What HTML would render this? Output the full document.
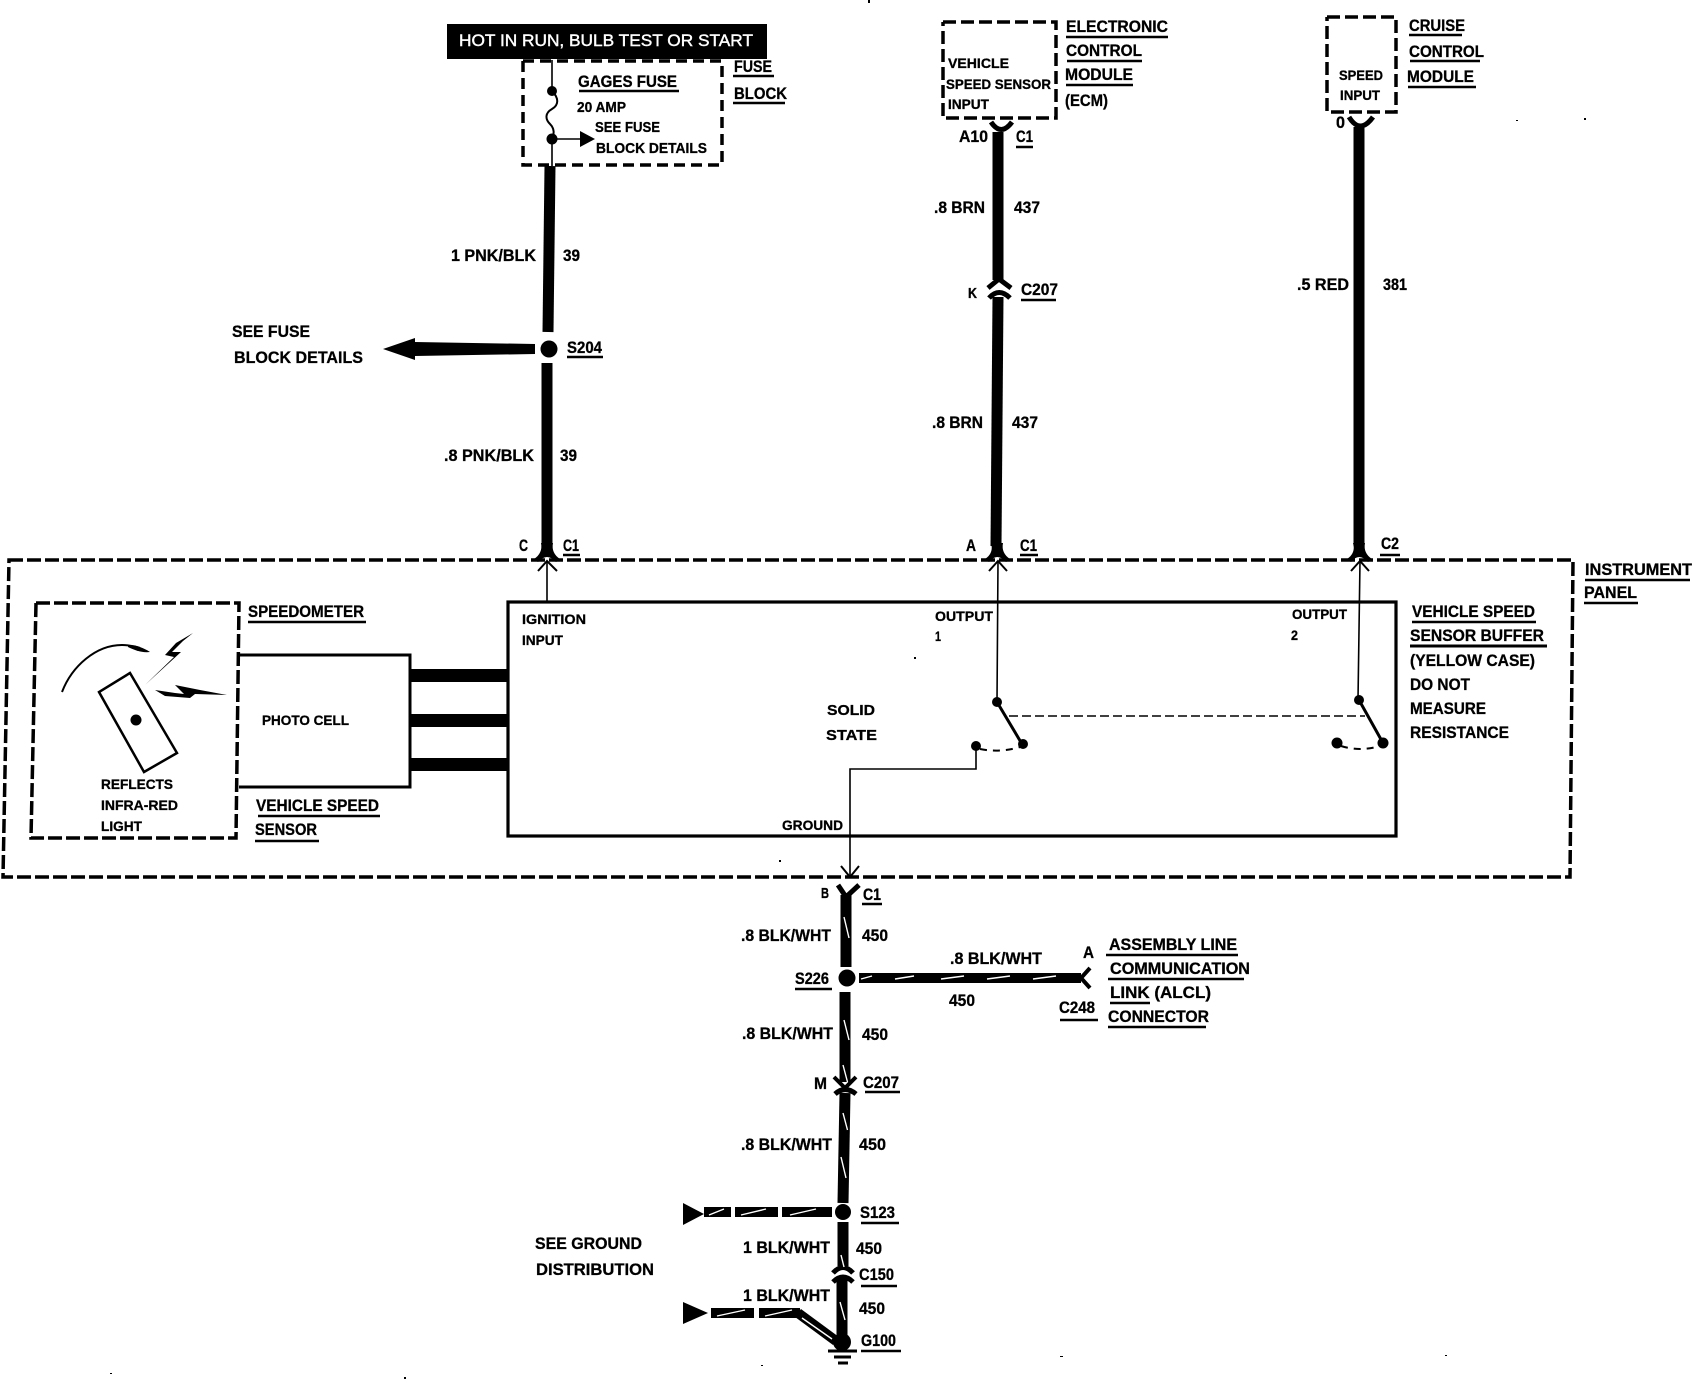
<!DOCTYPE html>
<html><head><meta charset="utf-8"><style>
html,body{margin:0;padding:0;background:#fff}
svg{display:block}
text{font-family:"Liberation Sans",sans-serif;font-weight:bold;fill:#000;font-size:16.5px;stroke:#000;stroke-width:.3}
.s{font-size:13.5px}
.m{font-size:15px}
.d{fill:none;stroke:#000;stroke-width:3.5;stroke-dasharray:13 5}
.w{fill:none;stroke:#000;stroke-width:11}
.u{fill:none;stroke:#000;stroke-width:2.5}
.t{fill:none;stroke:#000;stroke-width:1.6}
.c{fill:none;stroke:#000;stroke-width:3.5}
.h{fill:none;stroke:#fff;stroke-width:1.4}
</style></head><body>
<svg width="1692" height="1392" viewBox="0 0 1692 1392" xmlns="http://www.w3.org/2000/svg">
<rect width="1692" height="1392" fill="#fff"/>

<!-- Fuse block -->
<rect x="447" y="24" width="320" height="35" fill="#000"/>
<text x="459" y="46" textLength="294" lengthAdjust="spacingAndGlyphs" style="fill:#fff;font-weight:normal;stroke:#fff;stroke-width:.4">HOT IN RUN, BULB TEST OR START</text>
<path class="d" style="stroke-dasharray:11 6" d="M523 61V165H722V61H523"/>
<path class="t" d="M552 60V91M552 139V166M552 139H582"/>
<path class="t" style="stroke-width:2" d="M552 91C559 98 559 105 552 109C545 113 545 119 550 124C555 129 554 134 552 139"/>
<circle cx="552" cy="91" r="5"/><circle cx="552" cy="139" r="5.5"/>
<path d="M580 131L595 139L580 147Z"/>
<text x="578" y="87" textLength="99" lengthAdjust="spacingAndGlyphs">GAGES FUSE</text>
<path class="u" d="M579 91H679"/>
<text class="m" x="577" y="112" textLength="49" lengthAdjust="spacingAndGlyphs">20 AMP</text>
<text class="m" x="595" y="132" textLength="65" lengthAdjust="spacingAndGlyphs">SEE FUSE</text>
<text class="m" x="596" y="153" textLength="111" lengthAdjust="spacingAndGlyphs">BLOCK DETAILS</text>
<text x="734" y="72" textLength="38" lengthAdjust="spacingAndGlyphs">FUSE</text><path class="u" d="M733 76H774"/>
<text x="734" y="99" textLength="53" lengthAdjust="spacingAndGlyphs">BLOCK</text><path class="u" d="M733 103H785"/>

<!-- Wire 39 -->
<path class="w" d="M550 166L548 332"/>
<path class="w" d="M547 363L547 548"/>
<circle cx="549" cy="349" r="8.5"/>
<path d="M383 349L415 338V342L535 344V354L415 356V360Z"/>
<text x="451" y="261" textLength="85" lengthAdjust="spacingAndGlyphs">1 PNK/BLK</text>
<text x="563" y="261" textLength="17" lengthAdjust="spacingAndGlyphs">39</text>
<text x="567" y="353" textLength="35" lengthAdjust="spacingAndGlyphs">S204</text><path class="u" d="M567 357H603"/>
<text x="232" y="337" textLength="78" lengthAdjust="spacingAndGlyphs">SEE FUSE</text>
<text x="234" y="363" textLength="129" lengthAdjust="spacingAndGlyphs">BLOCK DETAILS</text>
<text x="444" y="461" textLength="90" lengthAdjust="spacingAndGlyphs">.8 PNK/BLK</text>
<text x="560" y="461" textLength="17" lengthAdjust="spacingAndGlyphs">39</text>
<text x="519" y="551" textLength="9" lengthAdjust="spacingAndGlyphs">C</text>
<text x="563" y="551" textLength="16" lengthAdjust="spacingAndGlyphs">C1</text><path class="u" d="M563 555H580"/>

<!-- ECM -->
<path class="d" d="M943 22H1056V118H943V22"/>
<text x="1066" y="32" textLength="102" lengthAdjust="spacingAndGlyphs">ELECTRONIC</text><path class="u" d="M1066 37H1168"/>
<text x="1066" y="56" textLength="76" lengthAdjust="spacingAndGlyphs">CONTROL</text><path class="u" d="M1067 61H1142"/>
<text x="1065" y="80" textLength="68" lengthAdjust="spacingAndGlyphs">MODULE</text><path class="u" d="M1066 85H1133"/>
<text x="1065" y="106" textLength="43" lengthAdjust="spacingAndGlyphs">(ECM)</text>
<text class="s" x="948" y="68" textLength="61" lengthAdjust="spacingAndGlyphs">VEHICLE</text>
<text class="s" x="946" y="89" textLength="105" lengthAdjust="spacingAndGlyphs">SPEED SENSOR</text>
<text class="s" x="948" y="109" textLength="41" lengthAdjust="spacingAndGlyphs">INPUT</text>
<path class="c" style="stroke-width:5" d="M991 122Q1001 137 1012 122"/>
<text x="959" y="142" textLength="29" lengthAdjust="spacingAndGlyphs">A10</text>
<text x="1016" y="142" textLength="17" lengthAdjust="spacingAndGlyphs">C1</text><path class="u" d="M1016 147H1033"/>
<path class="w" d="M998 132V280"/>
<path class="c" style="stroke-width:5" d="M988 288L999 279L1011 288"/>
<path class="c" style="stroke-width:5" d="M989 298Q999 287 1010 298"/>
<path class="w" d="M998 297L996 546"/>
<text x="934" y="213" textLength="51" lengthAdjust="spacingAndGlyphs">.8 BRN</text>
<text x="1014" y="213" textLength="26" lengthAdjust="spacingAndGlyphs">437</text>
<text x="968" y="298" class="m" textLength="9" lengthAdjust="spacingAndGlyphs">K</text>
<text x="1021" y="295" textLength="37" lengthAdjust="spacingAndGlyphs">C207</text><path class="u" d="M1021 300H1056"/>
<text x="932" y="428" textLength="51" lengthAdjust="spacingAndGlyphs">.8 BRN</text>
<text x="1012" y="428" textLength="26" lengthAdjust="spacingAndGlyphs">437</text>
<text x="966" y="551" textLength="10" lengthAdjust="spacingAndGlyphs">A</text>
<text x="1020" y="551" textLength="17" lengthAdjust="spacingAndGlyphs">C1</text><path class="u" d="M1020 555H1038"/>

<!-- Cruise -->
<path class="d" d="M1327 17H1396V112H1327V17"/>
<text x="1409" y="31" textLength="56" lengthAdjust="spacingAndGlyphs">CRUISE</text><path class="u" d="M1409 35H1462"/>
<text x="1409" y="57" textLength="75" lengthAdjust="spacingAndGlyphs">CONTROL</text><path class="u" d="M1410 61H1480"/>
<text x="1407" y="82" textLength="67" lengthAdjust="spacingAndGlyphs">MODULE</text><path class="u" d="M1408 87H1476"/>
<text class="s" x="1339" y="80" textLength="44" lengthAdjust="spacingAndGlyphs">SPEED</text>
<text class="s" x="1340" y="100" textLength="40" lengthAdjust="spacingAndGlyphs">INPUT</text>
<text x="1336" y="128" textLength="9" lengthAdjust="spacingAndGlyphs">0</text>
<path class="c" style="stroke-width:5" d="M1349 117Q1360 135 1373 117"/>
<path class="w" d="M1359 127V546"/>
<text x="1297" y="290" textLength="52" lengthAdjust="spacingAndGlyphs">.5 RED</text>
<text x="1383" y="290" textLength="24" lengthAdjust="spacingAndGlyphs">381</text>
<text x="1381" y="549" textLength="18" lengthAdjust="spacingAndGlyphs">C2</text><path class="u" d="M1380 555H1400"/>

<!-- Instrument panel -->
<path class="d" d="M9 560H1573L1570 877H3Z" style="stroke-dasharray:14 4"/>
<text x="1585" y="575" textLength="107" lengthAdjust="spacingAndGlyphs">INSTRUMENT</text><path class="u" d="M1585 580H1690"/>
<text x="1584" y="598" textLength="53" lengthAdjust="spacingAndGlyphs">PANEL</text><path class="u" d="M1584 603H1638"/>

<!-- connector forks at panel -->
<g>
<path d="M534 559Q543 553 541 543H553Q551 553 560 559L556 562Q547 552 538 562Z"/>
<path d="M985 559Q994 553 991 543H1003Q1001 553 1010 559L1006 562Q997 552 989 562Z"/>
<path d="M1347 559Q1356 553 1353 543H1365Q1363 553 1372 559L1368 562Q1359 552 1351 562Z"/>
<path class="t" style="stroke-width:2" d="M538 571L547 561L557 571"/>
<path class="t" style="stroke-width:2" d="M989 571L998 561L1007 571"/>
<path class="t" style="stroke-width:2" d="M1351 571L1360 561L1369 571"/>
</g>
<path class="t" d="M547 561V602M998 561L997 702M1360 561L1358 700"/>

<!-- Speedometer -->
<path class="d" style="stroke-dasharray:14 4" d="M36 603H239L236 838H31Z"/>
<text x="248" y="617" textLength="116" lengthAdjust="spacingAndGlyphs">SPEEDOMETER</text><path class="u" d="M248 622H366"/>
<path d="M130 673L99 692L144 772L177 753Z" fill="#fff" stroke="#000" stroke-width="2.5"/>
<circle cx="136" cy="720" r="5.5"/>
<path class="t" style="stroke-width:2" d="M62 692C72 666 96 645 122 645C128 645 134 646 140 648"/>
<path d="M128 645C136 645 144 648 150 652C142 653 134 650 128 647Z"/>
<path d="M193 633L176 643L165 655L174 657L145 685L181 652L172 652L183 641Z"/>
<path d="M155 690L175 693L184 694L175 685L200 690L227 695L195 694L190 698L165 696Z"/>
<text class="s" x="101" y="789" textLength="72" lengthAdjust="spacingAndGlyphs">REFLECTS</text>
<text class="s" x="101" y="810" textLength="77" lengthAdjust="spacingAndGlyphs">INFRA-RED</text>
<text class="s" x="101" y="831" textLength="41" lengthAdjust="spacingAndGlyphs">LIGHT</text>

<!-- Photo cell -->
<path d="M239 655H410V787H239" fill="none" stroke="#000" stroke-width="3"/>
<text class="s" x="262" y="725" textLength="87" lengthAdjust="spacingAndGlyphs">PHOTO CELL</text>
<rect x="410" y="669" width="98" height="13"/>
<rect x="410" y="714" width="98" height="13"/>
<rect x="410" y="758" width="98" height="13"/>
<text x="256" y="811" textLength="123" lengthAdjust="spacingAndGlyphs">VEHICLE SPEED</text><path class="u" d="M258 816H380"/>
<text x="255" y="835" textLength="62" lengthAdjust="spacingAndGlyphs">SENSOR</text><path class="u" d="M255 841H319"/>

<!-- Buffer -->
<rect x="508" y="602" width="888" height="234" fill="none" stroke="#000" stroke-width="3.2"/>
<text class="s" x="522" y="624" textLength="64" lengthAdjust="spacingAndGlyphs">IGNITION</text>
<text class="s" x="522" y="645" textLength="41" lengthAdjust="spacingAndGlyphs">INPUT</text>
<text class="s" x="935" y="621" textLength="58" lengthAdjust="spacingAndGlyphs">OUTPUT</text>
<text class="s" x="935" y="641" textLength="6" lengthAdjust="spacingAndGlyphs">1</text>
<text class="s" x="1292" y="619" textLength="55" lengthAdjust="spacingAndGlyphs">OUTPUT</text>
<text class="s" x="1291" y="640" textLength="7" lengthAdjust="spacingAndGlyphs">2</text>
<text x="827" y="715" textLength="48" lengthAdjust="spacingAndGlyphs" class="m">SOLID</text>
<text x="826" y="740" textLength="51" lengthAdjust="spacingAndGlyphs" class="m">STATE</text>
<text class="s" x="782" y="830" textLength="61" lengthAdjust="spacingAndGlyphs">GROUND</text>
<text x="1412" y="617" textLength="123" lengthAdjust="spacingAndGlyphs">VEHICLE SPEED</text><path class="u" d="M1412 622H1536"/>
<text x="1410" y="641" textLength="134" lengthAdjust="spacingAndGlyphs">SENSOR BUFFER</text><path class="u" style="stroke-width:3" d="M1410 646H1547"/>
<text x="1410" y="666" textLength="125" lengthAdjust="spacingAndGlyphs">(YELLOW CASE)</text>
<text x="1410" y="690" textLength="60" lengthAdjust="spacingAndGlyphs">DO NOT</text>
<text x="1410" y="714" textLength="76" lengthAdjust="spacingAndGlyphs">MEASURE</text>
<text x="1410" y="738" textLength="99" lengthAdjust="spacingAndGlyphs">RESISTANCE</text>

<!-- Switches -->
<circle cx="997" cy="702" r="5"/><circle cx="1359" cy="700" r="5"/>
<path class="c" style="stroke-width:3" d="M997 702L1022 744M1359 700L1383 743"/>
<circle cx="1023" cy="744" r="5"/><circle cx="1383" cy="743" r="5.5"/>
<circle cx="976" cy="746" r="5"/><circle cx="1337" cy="743" r="5.5"/>
<path class="t" style="stroke-dasharray:9 4" d="M1009 716H1365"/>
<path class="t" style="stroke-dasharray:7 6;stroke-width:2" d="M980 749Q1000 753 1020 747M1341 746Q1360 752 1380 746"/>
<path class="t" d="M976 746V769H850V877"/>
<path class="t" style="stroke-width:2" d="M841 866L850 877L859 866"/>

<!-- Ground wire -->
<path class="c" style="stroke-width:5" d="M838 885L846 897L859 885"/>
<path class="w" d="M846 895V967"/>
<circle cx="847" cy="978" r="8.5"/>
<path class="w" d="M845 992V1082"/>
<path class="c" style="stroke-width:4" d="M834 1077L845 1088L856 1077"/>
<path class="c" style="stroke-width:5" d="M835 1094Q845 1085 856 1094"/>
<path class="w" d="M845 1093L843 1203"/>
<circle cx="843" cy="1212" r="8"/>
<path class="w" d="M843 1222V1266"/>
<path class="c" style="stroke-width:5" d="M833 1273Q843 1262 853 1273"/>
<path class="c" style="stroke-width:5" d="M833 1282Q843 1272 853 1282"/>
<path class="w" d="M842 1278V1343"/>
<circle cx="842" cy="1342" r="9"/>
<path class="u" style="stroke-width:3" d="M828 1351H857M834 1357H851M838 1363H848"/>
<!-- slashes -->
<path class="h" d="M844 917L849 938M844 1020L849 1040M843 1065L847.5 1082M843 1113L847.5 1130M841 1157L846 1178M841 1255L844 1267M840 1302L845 1320"/>

<!-- ALCL branch -->
<path class="w" style="stroke-width:10" d="M859 978H1081"/>
<path class="c" style="stroke-width:4" d="M1090 968L1081 978L1090 988"/>
<path class="h" d="M861 979L872 976M895 979L914 976M941 979L964 976M987 979L1010 976M1033 979L1056 976"/>

<!-- S123 branch -->
<path d="M683 1203L704 1214L683 1225Z"/>
<rect x="704" y="1207" width="27" height="10"/><rect x="735" y="1207" width="43" height="10"/><rect x="782" y="1207" width="50" height="10"/>
<path class="h" d="M709 1215L724 1209M741 1215L766 1209M790 1215L816 1209"/>
<!-- G100 branch -->
<path d="M683 1302L708 1313L683 1324Z"/>
<rect x="711" y="1308" width="43" height="10"/><rect x="759" y="1308" width="41" height="10"/>
<path class="w" style="stroke-width:10" d="M798 1313L836 1341"/>
<path class="h" d="M717 1316L745 1310M765 1316L792 1310M802 1318L832 1339"/>

<!-- Labels lower -->
<text x="821" y="898" textLength="8" lengthAdjust="spacingAndGlyphs" class="m">B</text>
<text x="863" y="900" textLength="18" lengthAdjust="spacingAndGlyphs">C1</text><path class="u" d="M862 904H882"/>
<text x="741" y="941" textLength="90" lengthAdjust="spacingAndGlyphs">.8 BLK/WHT</text>
<text x="862" y="941" textLength="26" lengthAdjust="spacingAndGlyphs">450</text>
<text x="795" y="984" textLength="34" lengthAdjust="spacingAndGlyphs">S226</text><path class="u" d="M795 989H832"/>
<text x="950" y="964" textLength="92" lengthAdjust="spacingAndGlyphs">.8 BLK/WHT</text>
<text x="949" y="1006" textLength="26" lengthAdjust="spacingAndGlyphs">450</text>
<text x="1083" y="958" textLength="11" lengthAdjust="spacingAndGlyphs">A</text>
<text x="1109" y="950" textLength="128" lengthAdjust="spacingAndGlyphs">ASSEMBLY LINE</text><path class="u" d="M1106 955H1238"/>
<text x="1110" y="974" textLength="140" lengthAdjust="spacingAndGlyphs">COMMUNICATION</text><path class="u" d="M1108 979H1244"/>
<text x="1110" y="998" textLength="101" lengthAdjust="spacingAndGlyphs">LINK  (ALCL)</text><path class="u" d="M1110 1003H1150"/>
<text x="1059" y="1013" textLength="36" lengthAdjust="spacingAndGlyphs">C248</text><path class="u" d="M1060 1020H1098"/>
<text x="1108" y="1022" textLength="101" lengthAdjust="spacingAndGlyphs">CONNECTOR</text><path class="u" d="M1108 1027H1206"/>
<text x="742" y="1039" textLength="91" lengthAdjust="spacingAndGlyphs">.8 BLK/WHT</text>
<text x="862" y="1040" textLength="26" lengthAdjust="spacingAndGlyphs">450</text>
<text x="814" y="1089" textLength="13" lengthAdjust="spacingAndGlyphs">M</text>
<text x="863" y="1088" textLength="36" lengthAdjust="spacingAndGlyphs">C207</text><path class="u" d="M865 1092H900"/>
<text x="741" y="1150" textLength="91" lengthAdjust="spacingAndGlyphs">.8 BLK/WHT</text>
<text x="859" y="1150" textLength="27" lengthAdjust="spacingAndGlyphs">450</text>
<text x="860" y="1218" textLength="35" lengthAdjust="spacingAndGlyphs">S123</text><path class="u" d="M861 1223H899"/>
<text x="535" y="1249" textLength="107" lengthAdjust="spacingAndGlyphs">SEE GROUND</text>
<text x="536" y="1275" textLength="118" lengthAdjust="spacingAndGlyphs">DISTRIBUTION</text>
<text x="743" y="1253" textLength="87" lengthAdjust="spacingAndGlyphs">1 BLK/WHT</text>
<text x="856" y="1254" textLength="26" lengthAdjust="spacingAndGlyphs">450</text>
<text x="859" y="1280" textLength="35" lengthAdjust="spacingAndGlyphs">C150</text><path class="u" d="M861 1286H897"/>
<text x="743" y="1301" textLength="87" lengthAdjust="spacingAndGlyphs">1 BLK/WHT</text>
<text x="859" y="1314" textLength="26" lengthAdjust="spacingAndGlyphs">450</text>
<text x="861" y="1346" textLength="35" lengthAdjust="spacingAndGlyphs">G100</text><path class="u" d="M861 1351H901"/>

<!-- specks -->
<g fill="#000">
<rect x="868" y="0" width="2" height="3"/><rect x="914" y="657" width="2" height="2"/>
<rect x="1584" y="118" width="2" height="2"/><rect x="1516" y="120" width="2" height="1"/>
<rect x="779" y="860" width="2" height="2"/><rect x="1060" y="1356" width="3" height="1"/>
<rect x="404" y="1377" width="2" height="2"/><rect x="1445" y="1355" width="2" height="1"/>
<rect x="761" y="1365" width="2" height="1"/><rect x="110" y="1373" width="2" height="1"/>
</g>
</svg>
</body></html>
